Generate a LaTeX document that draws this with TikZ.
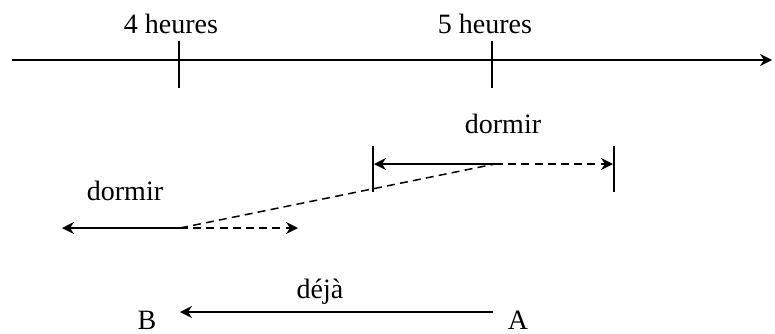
\documentclass[tikz,border=0pt]{standalone}
\usepackage{fontspec}
\setmainfont{Liberation Serif}
\usetikzlibrary{positioning,arrows.meta}
\tikzset{
  trait/.style={black, line width=0.75pt},
  pointilles/.style={black, line width=0.75pt, dash pattern=on 4pt off 2.6pt},
  repere/.style={black, line width=0.75pt},
  pointe/.style={-{Stealth[length=6pt,width=6pt,inset=2pt]}},
  etiquette/.style={font=\fontsize{14}{16}\selectfont, anchor=base, inner sep=0pt}
}

\begin{document}
\begin{tikzpicture}[x=0.5pt,y=-0.5pt]
  \useasboundingbox (0,0) rectangle (775,333);
  \def\yaxe{60}
  \def\ydormir{164}
  \def\ydormirbas{228}
  \def\ydeja{312}

  % axe du temps
  \coordinate (debut) at (12,\yaxe);
  \coordinate (fin) at (772,\yaxe);
  \draw[trait,pointe] (debut) -- (fin);

  % graduations : 4 heures et 5 heures
  \foreach \nom/\x in {quatre/179,cinq/492}{
    \coordinate (\nom-haut) at (\x,41);
    \coordinate (\nom-bas) at (\x,88);
    \draw[repere] (\nom-haut) -- (\nom-bas);
  }
  \node[etiquette] (heure4) at (171,33) {4 heures};
  \node[etiquette] (heure5) at (485,33) {5 heures};

  % intervalle du haut
  \coordinate (bg-haut) at (373,146);
  \coordinate (bg-bas) at (373,192);
  \coordinate (bd-haut) at (614,146);
  \coordinate (bd-bas) at (614,192);
  \draw[repere] (bg-haut) -- (bg-bas);
  \draw[repere] (bd-haut) -- (bd-bas);
  \coordinate (pivot) at (495,\ydormir);
  \coordinate (gauche) at (374,\ydormir);
  \coordinate (droite) at (613,\ydormir);
  \draw[trait,pointe] (pivot) -- (gauche);
  \draw[pointilles,pointe] (pivot) -- (droite);
  \node[etiquette] (dormir1) at (503,133) {dormir};

  % intervalle du bas
  \coordinate (pivotbas) at (180,\ydormirbas);
  \coordinate (gauchebas) at (62,\ydormirbas);
  \coordinate (droitebas) at (298,\ydormirbas);
  \draw[trait,pointe] (pivotbas) -- (gauchebas);
  \draw[pointilles,pointe] (pivotbas) -- (droitebas);
  \node[etiquette] (dormir2) at (125,200) {dormir};

  % liaison
  \draw[pointilles] (pivotbas) -- (pivot);

  % déjà : de A vers B
  \node[etiquette] (B) at (147,329) {B};
  \node[etiquette] (A) at (518,329) {A};
  \coordinate (depart) at (493,\ydeja);
  \coordinate (arrivee) at (180,\ydeja);
  \draw[trait,pointe] (depart) -- (arrivee);
  \node[etiquette] (deja) at (320,298) {déjà};
\end{tikzpicture}
\end{document}
